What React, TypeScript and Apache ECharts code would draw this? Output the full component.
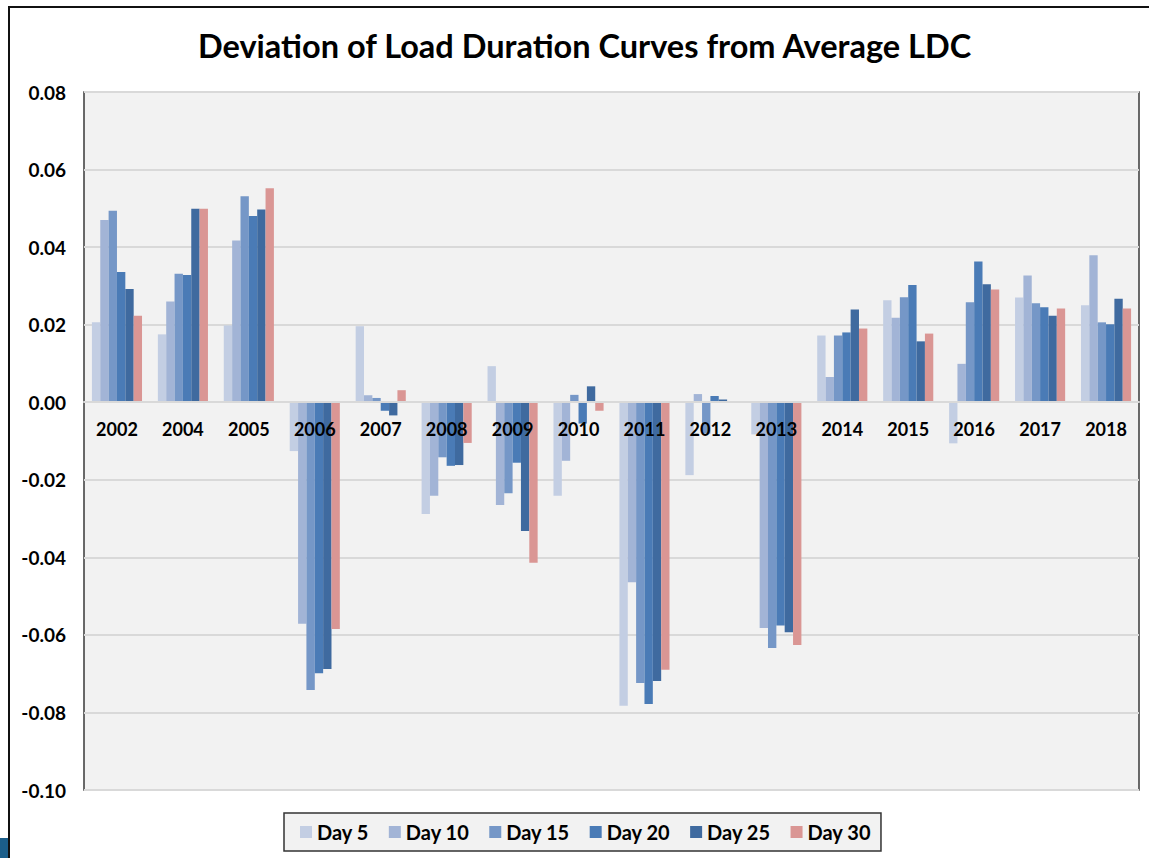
import React, { useEffect, useRef } from "react";
import * as echarts from "echarts";

const years = ["2002", "2004", "2005", "2006", "2007", "2008", "2009", "2010", "2011", "2012", "2013", "2014", "2015", "2016", "2017", "2018"];
const seriesNames = ["Day 5", "Day 10", "Day 15", "Day 20", "Day 25", "Day 30"];
const day5 = [0.0206, 0.0175, 0.0198, -0.0126, 0.0196, -0.0288, 0.0093, -0.0241, -0.0783, -0.0188, -0.0083, 0.0172, 0.0263, -0.0106, 0.027, 0.025];
const day10 = [0.047, 0.026, 0.0417, -0.0571, 0.0018, -0.0241, -0.0265, -0.0151, -0.0464, 0.0021, -0.0582, 0.0065, 0.0218, 0.0099, 0.0327, 0.0379];
const day15 = [0.0494, 0.0331, 0.0531, -0.0742, 0.0011, -0.0142, -0.0235, 0.0019, -0.0724, -0.0081, -0.0634, 0.0172, 0.0271, 0.0258, 0.0255, 0.0206];
const day20 = [0.0336, 0.0328, 0.048, -0.0699, -0.0022, -0.0164, -0.0156, -0.0055, -0.0778, 0.0016, -0.0576, 0.018, 0.0302, 0.0363, 0.0245, 0.0201];
const day25 = [0.0292, 0.0499, 0.0497, -0.0688, -0.0034, -0.0162, -0.0332, 0.0041, -0.0719, 0.0007, -0.0593, 0.0239, 0.0157, 0.0304, 0.0223, 0.0267];
const day30 = [0.0223, 0.0499, 0.0552, -0.0585, 0.0031, -0.0105, -0.0414, -0.0022, -0.069, 0.0002, -0.0626, 0.019, 0.0177, 0.0291, 0.0242, 0.0242];
const colors = ["#C3CEE3", "#A2B4D6", "#7597C7", "#4A7BB6", "#3F6A9F", "#DA9694"];
const yTicks = { min: -0.1, max: 0.08, interval: 0.02 };

const FONT = "Lato, 'Liberation Sans', sans-serif";

export default function App() {
  const ref = useRef<HTMLDivElement>(null);
  useEffect(() => {
    document.body.style.margin = "0";
    const chart = echarts.init(ref.current!, null, { renderer: "svg" });
    const data = [day5, day10, day15, day20, day25, day30];
    const gridTop = 92;
    const gridBottom = 68;
    const plotH = 858 - gridTop - gridBottom;
    const zeroOffset = (plotH * (0 - yTicks.min)) / (yTicks.max - yTicks.min);
    chart.setOption({
      animation: false,
      backgroundColor: "#ffffff",
      textStyle: { fontFamily: FONT },
      title: {
        text: "Deviation of Load Duration Curves from Average LDC",
        left: 193,
        top: 24,
        textStyle: { fontSize: 32.5, fontWeight: "bold", color: "#000", fontFamily: FONT },
      },
      grid: {
        left: 84,
        right: 10,
        top: gridTop,
        bottom: gridBottom,
        show: true,
        backgroundColor: "#F2F2F2",
        borderColor: "#3a3a3a",
        borderWidth: 1.5,
      },
      legend: {
        data: seriesNames,
        bottom: 7,
        left: 284,
        padding: [9, 10, 9, 16],
        itemWidth: 12,
        itemHeight: 12,
        itemGap: 20,
        icon: "rect",
        backgroundColor: "#F2F2F2",
        borderColor: "#333",
        borderWidth: 1.5,
        textStyle: { fontSize: 20, fontWeight: "bold", color: "#000", fontFamily: FONT },
      },
      xAxis: {
        type: "category",
        data: years,
        offset: -zeroOffset,
        z: 10,
        axisTick: { show: false },
        axisLine: { onZero: false, lineStyle: { color: "#D9D9D9", width: 2 } },
        axisLabel: { fontSize: 18, fontWeight: "bold", color: "#000", margin: 18, fontFamily: FONT },
      },
      yAxis: {
        type: "value",
        min: yTicks.min,
        max: yTicks.max,
        interval: yTicks.interval,
        axisLine: { show: false },
        axisTick: { show: false },
        splitLine: { lineStyle: { color: "#D9D9D9", width: 2 } },
        axisLabel: {
          fontSize: 19,
          fontWeight: "bold",
          color: "#000",
          margin: 18,
          fontFamily: FONT,
          formatter: (v: number) => v.toFixed(2),
        },
      },
      graphic: [
        {
          type: "rect",
          shape: { x: 9, y: 7, width: 1200, height: 900 },
          style: { fill: "none", stroke: "#111", lineWidth: 2 },
          silent: true,
        },
        {
          type: "rect",
          shape: { x: 0, y: 838, width: 8, height: 20 },
          style: { fill: "#1B5E8A" },
          silent: true,
        },
      ],
      series: seriesNames.map((name, i) => ({
        name,
        type: "bar",
        data: data[i],
        barGap: "0%",
        barCategoryGap: "24%",
        itemStyle: { color: colors[i] },
      })),
    });
    return () => chart.dispose();
  }, []);
  return <div ref={ref} style={{ width: 1149, height: 858 }} />;
}
